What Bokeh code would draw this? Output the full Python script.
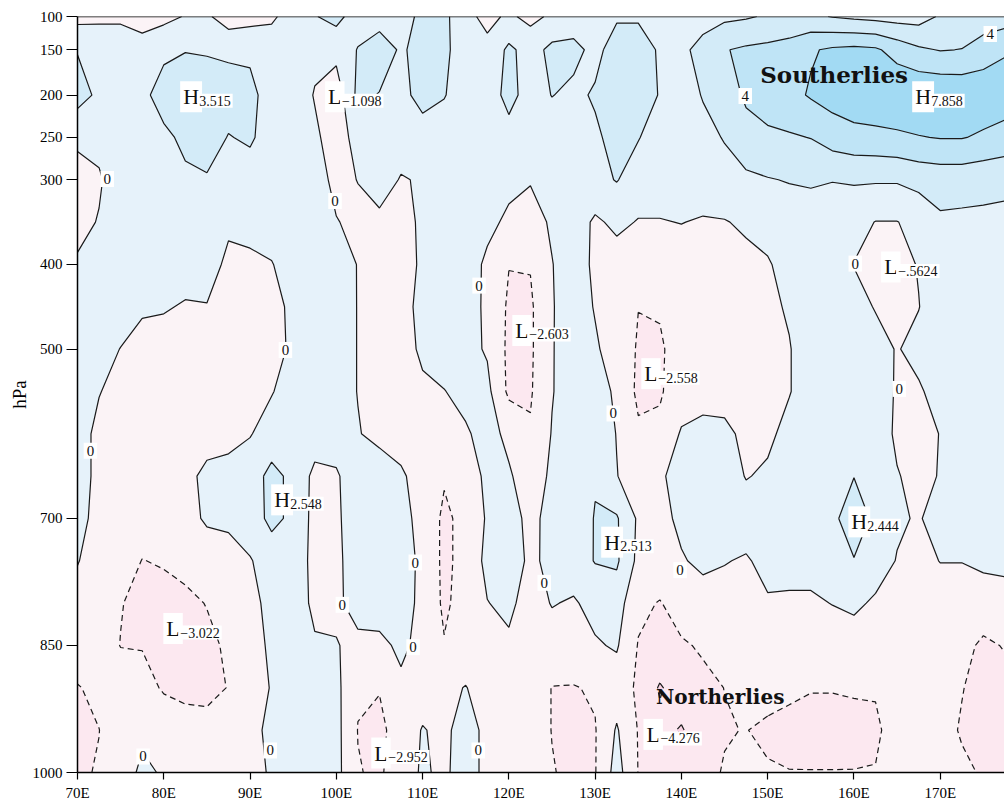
import numpy as np
from bokeh.plotting import figure
from bokeh.models import Range1d, FixedTicker, Label, Span
from bokeh.embed import file_html
from bokeh.resources import INLINE

# ---------------- data ----------------
lon = np.arange(70.0, 180.01, 2.5)            # grid longitudes (deg E)
plev = [100, 150, 200, 250, 300, 350, 400, 450, 500, 550,
        600, 650, 700, 750, 800, 850, 900, 950, 1000]
# vertical axis position of each level (the top two levels are stretched)
ypos = {100: 107.2, 150: 146.5}

# meridional wind (m/s) at each level, one value per grid longitude
u100 = [-0.6, -0.3, -0.3, -1.0, -0.5, 0.1, 0.3, -1.0, -0.7, -0.3,
        0.8, 1.9, 2.6, 1.0, 1.0, 1.0, 2.6, 2.5, 0.5, -0.5,
        0.3, -0.5, 0.3, 1.0, 1.2, 1.8, 1.8, 1.0, 1.0, 1.3,
        1.6, 1.8, 2.2, 2.5, 2.4, 1.9, 1.6, 1.4, 1.2, 1.2,
        2.2, 2.6, 2.8, 3.0, 3.2]
u150 = [1.9, 1.0, 1.0, 1.0, 1.5, 1.9, 1.8, 1.6, 1.6, 1.0,
        1.0, 0.4, 0.6, 2.1, 3.2, 1.7, 2.8, 2.4, 1.0, 0.5,
        2.4, 1.2, 2.5, 2.5, 1.5, 2.8, 2.8, 1.8, 1.6, 2.6,
        3.9, 4.3, 4.5, 4.8, 5.8, 6.3, 6.5, 6.3, 5.2, 4.3,
        3.9, 4.05, 5.0, 5.8, 6.0]
u200 = [2.8, 1.6, 1.0, 1.4, 3.0, 3.5, 3.2, 3.0, 2.6, 1.0,
        1.0, -0.1, -1.1, 2.5, 1.9, 1.5, 2.6, 2.1, 1.0, 1.0,
        2.6, 1.2, 2.05, 1.6, 2.2, 2.8, 2.9, 1.9, 1.2, 2.1,
        3.0, 4.3, 5.0, 5.4, 6.2, 6.8, 7.3, 7.6, 7.8, 7.85,
        7.8, 7.6, 7.3, 7.0, 6.8]
u250 = [0.3, 0.5, 1.0, 1.0, 1.5, 2.5, 3.0, 1.9, 2.3, 1.0,
        1.0, 0.3, -0.8, 0.6, 1.0, 1.0, 1.2, 1.0, 1.0, 1.0,
        1.3, 1.0, 1.0, 1.0, 1.7, 2.6, 2.1, 1.0, 1.0, 1.5,
        2.1, 3.3, 3.6, 3.8, 4.05, 4.9, 5.3, 5.4, 5.6, 5.9,
        6.1, 6.1, 5.7, 5.3, 5.1]
u300 = [-0.6, -0.2, 1.0, 1.0, 1.0, 1.6, 1.8, 1.0, 1.0, 1.0,
        1.0, 1.0, -0.6, 0.05, 1.0, -0.15, 0.2, 1.0, 1.0, 1.0,
        0.4, 0.1, 0.6, 1.0, 1.4, 2.1, 1.0, 1.0, 1.0, 1.2,
        1.4, 1.6, 1.9, 2.1, 2.2, 2.05, 2.2, 2.2, 2.2, 2.6,
        2.8, 2.8, 2.6, 2.4, 2.3]
u350 = [-0.5, 0.1, 1.0, 1.0, 1.0, 1.0, 1.0, 0.4, 0.8, 1.0,
        1.0, 1.0, 0.1, -0.5, -0.5, -0.4, 0.2, 1.0, 1.0, 0.4,
        -0.3, -0.6, 0.2, 1.0, -0.3, 0.4, -0.1, -0.1, 0.05, -0.2,
        -0.1, 0.3, 0.8, 1.0, 1.2, 1.2, 0.7, -0.05, -0.05, 0.6,
        1.7, 1.6, 1.6, 1.6, 1.7]
u400 = [0.2, 1.0, 1.0, 1.0, 1.0, 1.0, 1.0, -0.5, -0.5, -0.1,
        1.0, 1.0, 0.7, -0.05, -0.8, -0.8, 0.3, 1.0, 0.8, -0.3,
        -1.95, -1.9, -0.05, 0.8, -0.3, -0.8, -1.0, -1.0, -1.0, -1.0,
        -0.8, -0.5, -0.2, 0.8, 1.0, 0.6, -0.05, -0.6, -0.6, 0.1,
        1.0, 1.2, 1.2, 1.2, 1.2]
u450 = [1.0, 1.0, 1.0, 0.3, 0.2, -0.2, -0.1, -0.8, -1.0, -0.6,
        0.4, 1.0, 0.8, -0.05, -0.8, -0.5, 0.4, 1.0, 0.7, -0.3,
        -2.3, -2.3, -0.1, 0.8, -0.1, -0.8, -1.97, -1.8, -1.0, -1.0,
        -0.9, -0.7, -0.4, 0.2, 1.0, 1.0, 0.6, -0.1, -0.4, -0.05,
        1.0, 1.2, 1.2, 1.2, 1.2]
u500 = [1.0, 0.8, -0.05, -0.8, -1.0, -1.0, -1.0, -1.0, -1.0, -0.6,
        0.3, 1.0, 0.8, -0.05, -0.8, -0.7, 0.3, 0.8, 0.6, -0.2,
        -2.4, -2.3, -0.1, 0.9, 0.2, -0.7, -2.2, -2.3, -1.0, -1.0,
        -1.0, -1.0, -0.6, -0.1, 1.0, 1.0, 1.0, 0.6, -0.1, 0.5,
        1.2, 1.2, 1.2, 1.2, 1.2]
u550 = [1.0, 0.1, -0.8, -1.0, -1.0, -1.0, -1.0, -1.0, -0.8, -0.1,
        0.8, 1.0, 0.8, -0.05, -0.6, -0.6, -0.3, -0.05, 0.5, 0.5,
        -2.4, -2.2, -0.1, 1.0, 0.8, -0.3, -2.4, -2.2, -1.0, -1.0,
        -1.0, -1.0, -0.7, -0.1, 1.0, 1.0, 1.0, 1.0, -0.2, -0.2,
        0.6, 1.2, 1.2, 1.2, 1.2]
u600 = [1.0, -0.6, -1.0, -1.0, -1.0, -1.0, -1.0, -0.9, -0.1, 0.8,
        1.0, 1.0, 0.8, 0.1, -0.5, -0.6, -0.6, -0.5, -0.2, 0.6,
        -0.4, -1.8, 0.1, 1.0, 1.0, -0.05, -1.7, -1.6, 0.2, 0.8,
        0.6, -0.6, -0.4, 0.6, 1.0, 1.0, 1.2, 1.0, -0.3, -0.6,
        0.05, 1.2, 1.2, 1.2, 1.2]
u650 = [1.0, -0.6, -1.0, -1.0, -1.0, -0.7, 0.6, 1.0, 1.0, 2.6,
        1.5, -0.5, -0.2, 1.0, 1.0, 0.2, -0.6, -1.8, -0.5, 0.2,
        0.2, -0.9, 0.3, 1.0, 1.85, 0.05, -0.8, -0.3, 0.8, 1.0,
        1.0, -0.1, 0.3, 1.0, 1.0, 1.0, 1.95, 1.0, 0.1, -0.5,
        0.1, 1.1, 1.1, 1.1, 1.1]
u700 = [0.8, -0.8, -1.0, -1.0, -1.0, -0.5, 0.2, 0.3, 0.8, 2.6,
        1.5, -0.6, -0.3, 1.0, 1.0, 0.5, -0.5, -2.4, -1.4, 0.2,
        0.6, -0.4, 0.5, 0.9, 2.1, 2.2, -0.3, -0.7, 0.5, 1.0,
        1.0, 1.0, 1.0, 1.0, 1.0, 1.5, 3.2, 1.5, 0.3, -0.2,
        1.0, 1.2, 1.2, 1.2, 1.2]
u750 = [0.1, -1.0, -1.0, -2.05, -1.8, -1.2, -0.8, -0.6, -0.1, 0.7,
        1.0, -0.5, -0.3, 0.7, 1.0, 1.0, -0.5, -2.4, -1.4, 0.5,
        0.8, -0.3, 0.4, 1.0, 2.1, 2.3, -0.5, -0.8, -0.2, 0.5,
        0.1, -0.2, 0.6, 0.7, 0.7, 1.0, 1.9, 1.0, -0.1, -0.6,
        0.05, 0.05, 0.4, 0.6, 0.6]
u800 = [-0.8, -1.0, -1.9, -2.6, -2.8, -2.6, -1.9, -0.8, -0.5, 0.5,
        1.0, -0.4, -0.4, 0.8, 1.0, 1.0, -0.6, -2.3, -1.3, -0.05,
        0.4, -0.8, 0.1, -0.2, 0.6, 0.9, -1.6, -2.1, -1.2, -1.0,
        -0.8, -0.5, -0.2, -0.3, -0.3, 0.05, 0.4, -0.3, -0.8, -1.0,
        -1.0, -1.0, -1.0, -1.0, -1.0]
u850 = [-1.0, -1.0, -2.05, -2.1, -2.8, -2.7, -2.6, -1.6, -0.7, 0.3,
        1.0, 0.2, 0.1, -0.5, -0.5, 0.4, -0.6, -1.9, -0.8, -0.2,
        -0.3, -0.8, -0.8, -0.7, -0.2, 0.2, -2.1, -2.5, -2.2, -1.8,
        -1.0, -1.0, -1.0, -1.0, -1.0, -1.0, -1.0, -1.0, -1.0, -1.0,
        -1.0, -1.5, -2.3, -1.9, -1.8]
u900 = [-2.1, -1.6, -1.0, -1.3, -2.2, -2.5, -2.4, -1.95, -0.8, 0.1,
        1.0, 1.0, 0.5, -1.8, -1.9, -0.4, -0.8, -0.3, 0.05, -0.6,
        -0.8, -1.0, -2.05, -2.1, -1.8, -1.0, -2.3, -4.2, -3.0, -2.4,
        -1.98, -1.2, -1.2, -1.6, -1.9, -1.9, -1.8, -1.8, -1.0, -1.0,
        -1.0, -1.9, -2.8, -2.5, -2.2]
u950 = [-2.2, -2.02, -1.0, -0.4, -0.8, -1.2, -1.5, -1.0, -0.5, 0.4,
        1.0, 1.0, 0.6, -2.05, -2.5, -1.0, 0.1, -0.4, 0.8, -0.5,
        -0.8, -1.0, -2.05, -2.5, -2.1, 0.2, -2.1, -3.5, -4.15, -3.0,
        -2.1, -1.95, -2.4, -2.6, -2.7, -2.7, -2.6, -2.4, -1.0, -1.0,
        -1.2, -2.2, -3.0, -2.8, -2.5]
u1000 = [-2.2, -1.9, -1.0, 0.4, -0.2, -1.0, -1.0, -1.0, -0.6, 0.2,
         1.0, 1.0, 0.6, -1.9, -2.3, -0.8, 0.2, -0.3, 0.8, -0.5,
         -0.3, -1.0, -1.9, -2.4, -2.1, 0.8, -2.05, -2.6, -2.8, -2.4,
         -1.9, -1.6, -1.8, -1.95, -1.95, -1.95, -1.95, -1.9, -1.0, -1.0,
         -1.0, -1.6, -2.2, -2.3, -2.3]

levels = [-6, -4, -2, 0, 2, 4, 6, 8]
fills = ["#f8d3e3", "#fce8f0", "#fbf3f6", "#e6f2fa", "#d3ebf8", "#bfe4f6", "#a2daf3"]

xticks = [70, 80, 90, 100, 110, 120, 130, 140, 150, 160, 170]
ytick_p = [100, 150, 200, 250, 300, 400, 500, 700, 850, 1000]

# extreme labels: (kind, value text, lon of label, pressure-axis position)
ext_kind = ["H", "L", "H", "L", "L", "L", "H", "H", "H", "L", "L", "L"]
ext_text = ["3.515", "\u22121.098", "7.858", "\u2212.5624", "\u22122.603", "\u22122.558",
            "2.548", "2.444", "2.513", "\u22123.022", "\u22122.952", "\u22124.276"]
ext_lon = [81.9, 98.7, 166.75, 163.15, 120.4, 135.35, 92.45, 159.35, 130.7, 79.95, 104.05, 135.6]
ext_y = [202, 202, 202, 403, 478, 529, 678, 704, 728, 830, 977, 955]

# contour value labels
clab_text = ["0"] * 16 + ["4", "4"]
clab_lon = [73.45, 99.85, 116.55, 94.1, 71.5, 132.1, 165.25, 160.15, 109.15, 100.7,
            108.9, 124.1, 139.85, 77.6, 92.35, 116.45, 147.4, 175.8]
clab_y = [299, 325, 425, 501, 620, 576, 547, 399, 752, 802,
          852, 776, 761, 981, 974, 974, 201, 128]

# ---------------- figure ----------------
Y = [ypos.get(pp, pp) for pp in plev]
Z = np.array([u100, u150, u200, u250, u300, u350, u400, u450, u500, u550,
              u600, u650, u700, u750, u800, u850, u900, u950, u1000])

p = figure(width=1004, height=805, x_range=Range1d(70, 177.45), y_range=Range1d(1000, 107.2),
           output_backend="svg", toolbar_location=None,
           min_border_left=77, min_border_right=0, min_border_top=16, min_border_bottom=33)
p.outline_line_color = None
p.grid.visible = False
p.background_fill_color = "white"

p.contour(lon, Y, Z, levels=levels, fill_color=fills)
p.contour(lon, Y, Z, levels=[-4, -2], line_color="#1a1a1a", line_width=1.2, line_dash="6 4")
p.contour(lon, Y, Z, levels=[0, 2, 4, 6], line_color="#1a1a1a", line_width=1.2)

p.add_layout(Span(location=107.2, dimension="width", line_color="black", line_width=1.5))

serif = "Liberation Serif"
p.xaxis.ticker = FixedTicker(ticks=xticks)
p.xaxis.major_label_overrides = {t: f"{t}E" for t in xticks}
p.yaxis.ticker = FixedTicker(ticks=[ypos.get(t, t) for t in ytick_p])
p.yaxis.major_label_overrides = {ypos.get(t, t): str(t) for t in ytick_p}
for ax in (p.xaxis[0], p.yaxis[0]):
    ax.axis_line_color = "black"
    ax.axis_line_width = 1.5
    ax.major_tick_line_color = "black"
    ax.major_tick_line_width = 1.2
    ax.major_tick_in = 0
    ax.minor_tick_in = 0
    ax.minor_tick_out = 0
    ax.major_label_text_font = serif
    ax.major_label_text_font_size = "15px"
    ax.major_label_text_color = "black"
p.xaxis.major_tick_out = 7
p.xaxis.major_label_standoff = 5
p.yaxis.major_tick_out = 11
p.yaxis.major_label_standoff = 4
p.yaxis.axis_label = "hPa"
p.yaxis.axis_label_text_font = serif
p.yaxis.axis_label_text_font_size = "19px"
p.yaxis.axis_label_text_font_style = "normal"
p.yaxis.axis_label_text_color = "black"
p.yaxis.axis_label_standoff = 0

for k, t, xx, yy in zip(ext_kind, ext_text, ext_lon, ext_y):
    p.add_layout(Label(x=xx, y=yy, text=k, text_font=serif, text_font_size="22px",
                       text_align="left", text_baseline="middle", text_color="#111",
                       background_fill_color="white", padding=3))
    off = 17 if k == "H" else 15
    p.add_layout(Label(x=xx, y=yy, x_offset=off, y_offset=-4, text=t, text_font=serif,
                       text_font_size="14px", text_align="left", text_baseline="middle",
                       text_color="#111", background_fill_color="white", padding=2))

for t, xx, yy in zip(clab_text, clab_lon, clab_y):
    p.add_layout(Label(x=xx, y=yy, text=t, text_font=serif, text_font_size="15px",
                       text_align="center", text_baseline="middle", text_color="#111",
                       background_fill_color="white", padding=3))

p.add_layout(Label(x=157.7, y=176, text="Southerlies", text_font="DejaVu Serif",
                   text_font_style="bold", text_font_size="23px", text_align="center",
                   text_baseline="middle", text_color="#111"))
p.add_layout(Label(x=144.5, y=911, text="Northerlies", text_font="DejaVu Serif",
                   text_font_style="bold", text_font_size="20px", text_align="center",
                   text_baseline="middle", text_color="#111"))

open("out.html", "w").write(file_html(p, INLINE))
